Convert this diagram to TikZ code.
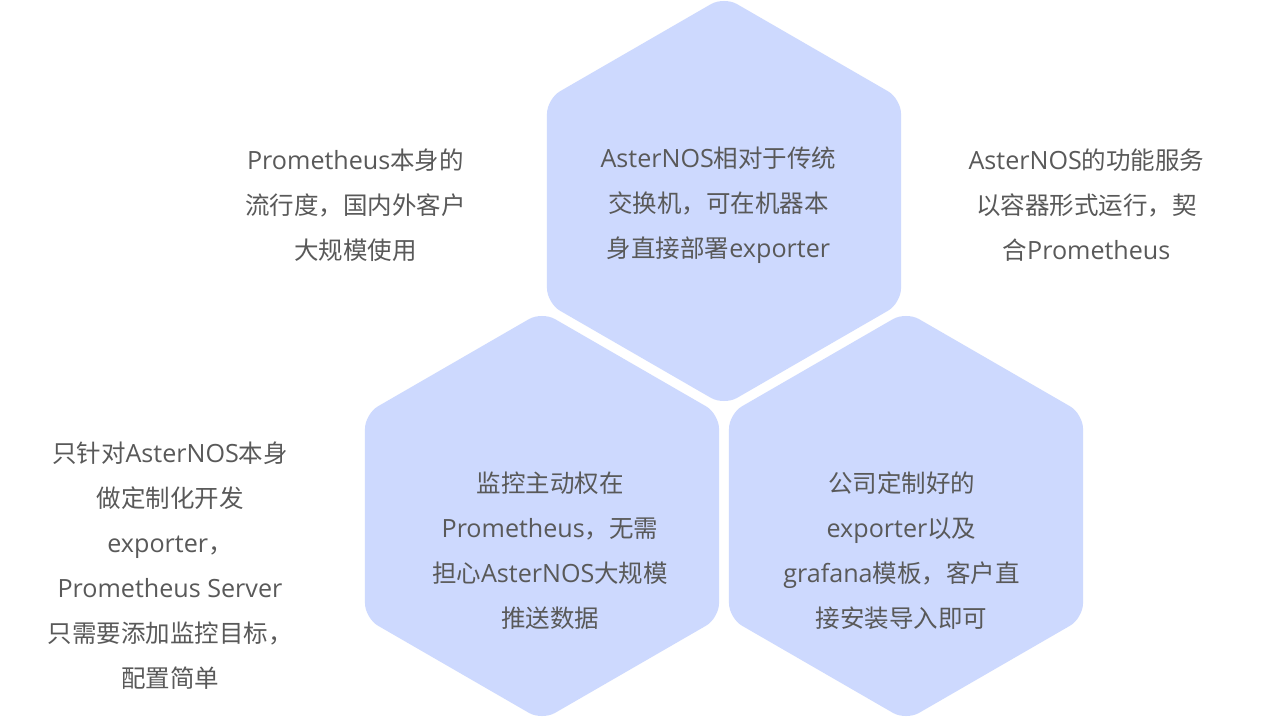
\documentclass[tikz,border=0pt]{standalone}
\usepackage{fontspec}
\setmainfont[Scale=1.025]{Open Sans}
\newfontfamily\cjk{Noto Sans CJK SC}
\usetikzlibrary{shapes.geometric}
\newcommand\zh[1]{{\cjk #1}}
\definecolor{hexblue}{HTML}{CDD9FE}
\definecolor{txtgray}{HTML}{595959}
\tikzset{
  hexa/.style={regular polygon, regular polygon sides=6, shape border rotate=30,
    minimum size=408.8pt, inner sep=0pt, outer sep=0pt, fill=hexblue, draw=none,
    rounded corners=15pt},
  txt/.style={align=center, text=txtgray, inner sep=0pt,
    font=\fontsize{24.5pt}{45pt}\selectfont}
}
\begin{document}
\begin{tikzpicture}[x=1pt,y=-1pt]
\useasboundingbox[fill=white] (0,0) rectangle (1265,717);
\node[hexa] (h1) at (724,201) {};
\node[hexa] (h2) at (542,516) {};
\node[hexa] (h3) at (906,516) {};
\node[txt] (t1) at (718.5,205) {AsterNOS\zh{相对于传统}\\\zh{交换机，可在机器本}\\\zh{身直接部署}exporter};
\node[txt] (t2) at (550,550.5) {\zh{监控主动权在}\\Prometheus\zh{，无需}\\\zh{担心}AsterNOS\zh{大规模}\\\zh{推送数据}};
\node[txt] (t3) at (901.5,550.5) {\zh{公司定制好的}\\exporter\zh{以及}\\grafana\zh{模板，客户直}\\\zh{接安装导入即可}};
\node[txt] (l1) at (355.5,205) {Prometheus\zh{本身的}\\\zh{流行度，国内外客户}\\\zh{大规模使用}};
\node[txt] (r1) at (1086.5,205) {AsterNOS\zh{的功能服务}\\\zh{以容器形式运行，契}\\\zh{合}Prometheus};
\node[txt] (l2) at (170,565.5) {\zh{只针对}AsterNOS\zh{本身}\\\zh{做定制化开发}\\exporter\zh{，}\\Prometheus Server\\\zh{只需要添加监控目标，}\\\zh{配置简单}};
\end{tikzpicture}
\end{document}
